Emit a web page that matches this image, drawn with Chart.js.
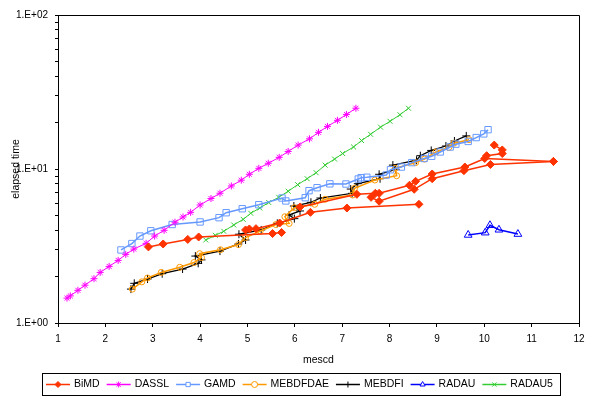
<!DOCTYPE html>
<html><head><meta charset="utf-8">
<script src="https://cdn.jsdelivr.net/npm/chart.js@4/dist/chart.umd.min.js"></script>
<style>html,body{margin:0;padding:0;background:#fff;}#wrap{width:603px;height:410px;position:relative;background:#fff}</style>
</head><body><div id="wrap"><canvas id="c" width="603" height="410"></canvas></div>
<script>
// ---- data ----
const seriesNames = ['BiMD','DASSL','GAMD','MEBDFDAE','MEBDFI','RADAU','RADAU5'];

// BiMD has several runs; null separates them
const bimdX = [2.91,3.22,3.74,3.97,5.53,5.72,null,4.96,5.04,5.18,5.68,6.33,7.10,8.62,null,6.11,7.31,7.70,7.78,8.42,8.55,8.90,9.59,10.01,11.46,null,7.61,7.78,8.52,8.90,9.57,10.13,11.46,null,10.05,10.38,10.38,10.21];
const bimdY = [3.12,3.26,3.49,3.62,3.81,3.87,null,4.02,4.08,4.10,4.46,5.23,5.58,5.90,null,5.67,6.85,6.95,6.95,7.84,8.32,9.28,10.3,11.7,11.2,null,6.55,6.17,7.38,8.65,9.75,10.7,11.2,null,12.2,12.6,13.3,14.3];

const dasslX = [1.19,1.26,1.42,1.57,1.76,1.89,2.08,2.27,2.43,2.60,2.86,3.04,3.24,3.47,3.64,3.80,4.00,4.23,4.42,4.66,4.87,5.04,5.24,5.44,5.67,5.86,6.07,6.31,6.50,6.69,6.90,7.09,7.29];
const dasslY = [1.45,1.50,1.63,1.76,1.94,2.13,2.33,2.55,2.79,3.02,3.29,3.67,4.00,4.51,4.88,5.23,5.84,6.43,6.96,7.76,8.46,9.24,10.1,10.9,11.9,13.0,14.3,15.7,17.3,18.9,20.7,22.6,24.8];

const gamdX = [2.33,2.56,2.73,2.96,3.41,4.00,4.40,4.55,4.89,5.24,5.73,5.81,6.22,6.30,6.47,6.74,7.08,7.34,7.40,7.52,7.93,8.02,8.25,8.47,8.73,8.89,9.07,9.28,9.40,9.66,9.83,9.99,10.08];
const gamdY = [2.98,3.28,3.67,3.97,4.36,4.53,4.83,5.20,5.52,5.86,6.48,6.20,6.51,7.23,7.56,8.01,7.99,8.61,8.78,8.84,9.14,9.89,10.3,11.0,11.7,12.1,12.9,13.9,14.5,15.1,16.0,16.9,18.0];

const mebdfdaeX = [2.57,2.77,2.89,3.18,3.57,3.87,4.03,3.99,4.43,4.81,4.96,5.27,5.60,5.88,5.79,5.99,6.42,6.64,7.22,7.26,7.69,8.15,8.12,8.55,8.74,8.98,9.25,9.36,9.68];
const mebdfdaeY = [1.66,1.85,1.96,2.13,2.30,2.47,2.66,2.82,2.99,3.23,3.59,3.96,4.36,4.43,4.90,5.61,5.90,6.36,6.78,7.49,8.48,9.04,10.1,11.0,11.6,12.9,13.8,14.7,15.5];

const mebdfiX = [2.54,2.61,2.89,3.20,3.63,3.96,4.03,3.90,4.42,4.81,4.96,4.82,5.29,5.63,5.99,5.88,6.11,5.98,6.34,6.54,7.21,7.18,7.33,7.80,7.78,8.13,8.07,8.57,8.65,8.88,9.19,9.37,9.62];
const mebdfiY = [1.66,1.81,1.93,2.09,2.24,2.44,2.57,2.72,2.93,3.26,3.46,3.77,4.02,4.44,4.76,5.03,5.34,5.75,6.08,6.48,6.95,7.41,8.03,8.65,9.24,9.95,10.6,11.4,12.2,13.2,14.1,15.2,16.4];

const radauX = [9.66,10.02,10.12,10.31,10.71];
const radauY = [3.73,3.86,4.31,4.03,3.78];

const radau5X = [4.12,4.32,4.50,4.71,4.91,5.07,5.26,5.45,5.66,5.86,6.06,6.26,6.45,6.64,6.84,7.01,7.24,7.41,7.60,7.81,8.01,8.22,8.40];
const radau5Y = [3.46,3.71,3.94,4.33,4.71,5.16,5.58,6.06,6.55,7.17,7.91,8.65,9.46,10.6,11.6,12.6,13.9,15.3,16.8,18.7,20.4,22.5,24.8];

const xTickValues = [1,2,3,4,5,6,7,8,9,10,11,12];
const xTickLabels = ['1','2','3','4','5','6','7','8','9','10','11','12'];
const yTickValues = [1,2,3,4,5,6,7,8,9,10,20,30,40,50,60,70,80,90,100];
const yMajorValues = [1,10,100];
const yMajorLabels = ['1.E+00','1.E+01','1.E+02'];
const xTitle = 'mescd';
const yTitle = 'elapsed time';

// ---- styles ----
const FONT = '"Liberation Sans", Arial, Helvetica, sans-serif';
const styles = {
  BiMD:     {color:'#FF3300', point:'rectRot',  r:4,   fill:true,  lw:1.5},
  DASSL:    {color:'#FF00FF', point:'star',     r:3.5, fill:false, lw:1},
  GAMD:     {color:'#6699FF', point:'rect',     r:4.5, fill:false, lw:1.5},
  MEBDFDAE: {color:'#FF9900', point:'circle',   r:3,   fill:false, lw:1.5},
  MEBDFI:   {color:'#000000', point:'cross',    r:4,   fill:false, lw:1.3},
  RADAU:    {color:'#0000FF', point:'triangle', r:4.5, fill:false, lw:1.5},
  RADAU5:   {color:'#33CC33', point:'crossRot', r:3.5, fill:false, lw:1}
};
const seriesData = {
  BiMD:[bimdX,bimdY], DASSL:[dasslX,dasslY], GAMD:[gamdX,gamdY],
  MEBDFDAE:[mebdfdaeX,mebdfdaeY], MEBDFI:[mebdfiX,mebdfiY],
  RADAU:[radauX,radauY], RADAU5:[radau5X,radau5Y]
};

function segments(xs, ys){
  const segs=[]; let cur=[];
  for(let i=0;i<xs.length;i++){
    if(xs[i]===null||ys[i]===null){ if(cur.length) segs.push(cur); cur=[]; }
    else cur.push({x:xs[i],y:ys[i]});
  }
  if(cur.length) segs.push(cur);
  return segs;
}

const datasets = [];
seriesNames.forEach(name=>{
  const st = styles[name];
  segments(seriesData[name][0], seriesData[name][1]).forEach(seg=>{
    datasets.push({
      label:name, data:seg, showLine:true,
      borderColor:st.color, borderWidth:st.lw,
      pointStyle:st.point, pointRadius:st.r, pointHoverRadius:st.r,
      pointBorderColor:st.color, pointBorderWidth:1,
      pointBackgroundColor: st.fill ? st.color : 'rgba(0,0,0,0)',
      tension:0, fill:false
    });
  });
});

const framePlugin = {
  id:'frameLegend',
  afterDraw(chart){
    const ctx = chart.ctx, a = chart.chartArea;
    ctx.save();
    ctx.strokeStyle = '#000'; ctx.lineWidth = 1;
    ctx.beginPath();
    ctx.moveTo(Math.round(a.left)+0.5, Math.round(a.top)+0.5);
    ctx.lineTo(Math.round(a.right)+0.5, Math.round(a.top)+0.5);
    ctx.lineTo(Math.round(a.right)+0.5, Math.round(a.bottom)+0.5);
    ctx.stroke();
    // legend box
    const lx = 42, ly = 373, lw = 518, lh = 22;
    ctx.strokeRect(lx+0.5, ly+0.5, lw, lh);
    const cy = ly + lh/2 + 0.5;
    let x = 46;
    ctx.font = '10.5px ' + FONT;
    ctx.textBaseline = 'middle';
    ctx.textAlign = 'left';
    seriesNames.forEach(name=>{
      const st = styles[name];
      ctx.strokeStyle = st.color; ctx.lineWidth = 1.5;
      ctx.beginPath(); ctx.moveTo(x, cy); ctx.lineTo(x+24, cy); ctx.stroke();
      ctx.fillStyle = st.fill ? st.color : '#fff';
      ctx.lineWidth = 1;
      if (Chart.helpers && Chart.helpers.drawPoint) {
        Chart.helpers.drawPoint(ctx, {pointStyle:st.point, radius:3, rotation:0, borderWidth:1}, x+12, cy);
      }
      ctx.fillStyle = '#000';
      ctx.fillText(name, x+28, cy);
      const w = ctx.measureText(name).width;
      x += 28 + w + 7;
    });
    ctx.restore();
  }
};

new Chart(document.getElementById('c'), {
  type:'scatter',
  data:{datasets},
  options:{
    responsive:false, animation:false, devicePixelRatio:1,
    layout:{padding:{left:5, top:15, right:24, bottom:40}},
    plugins:{legend:{display:false}, tooltip:{enabled:false}},
    scales:{
      x:{
        type:'linear', position:'bottom', min:1, max:12,
        afterFit(s){ s.height = 47; },
        afterBuildTicks(s){ s.ticks = xTickValues.map(v=>({value:v})); },
        ticks:{autoSkip:false, maxRotation:0, color:'#000', padding:6,
               font:{family:FONT, size:10},
               callback:(v,i)=> xTickLabels[i]},
        grid:{drawOnChartArea:false, drawTicks:true, tickLength:4, color:'#000'},
        border:{display:true, color:'#000', width:1},
        title:{display:true, text:xTitle, color:'#000', font:{family:FONT, size:10.5}, padding:{top:0, bottom:4}}
      },
      y:{
        type:'logarithmic', position:'left', min:1, max:100,
        afterFit(s){ s.width = 53; },
        afterBuildTicks(s){ s.ticks = yTickValues.map(v=>({value:v, major:yMajorValues.includes(v)})); },
        ticks:{autoSkip:false, color:'#000', padding:7,
               font:{family:FONT, size:10},
               callback:(v)=>{ const k = yMajorValues.indexOf(v); return k>=0 ? yMajorLabels[k] : ''; }},
        grid:{drawOnChartArea:false, drawTicks:true, tickLength:3, color:'#000'},
        border:{display:true, color:'#000', width:1},
        title:{display:true, text:yTitle, color:'#000', font:{family:FONT, size:10.5}, padding:{top:5, bottom:0}}
      }
    }
  },
  plugins:[framePlugin]
});
</script>
</body></html>
